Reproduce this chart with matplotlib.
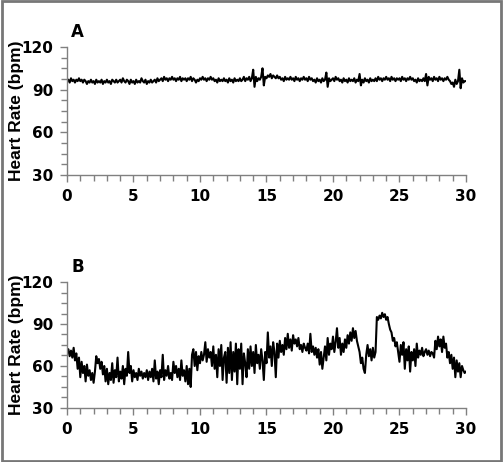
import numpy as np
import matplotlib
matplotlib.use("Agg")
import matplotlib.pyplot as plt
from matplotlib.ticker import MultipleLocator
from matplotlib.patches import Rectangle

# heart rate, one value every 0.1 min
minutes = np.arange(301) / 10.0

hr_a = [
    96, 97, 95, 98, 96, 97, 95, 97, 96, 98,
    96, 97, 95, 97, 96, 94, 96, 95, 97, 95,
    96, 94, 97, 95, 96, 95, 97, 94, 96, 95,
    97, 95, 96, 94, 97, 96, 95, 97, 95, 96,
    97, 95, 98, 96, 95, 97, 96, 94, 97, 95,
    96, 94, 97, 95, 96, 95, 98, 96, 95, 97,
    94, 96, 95, 97, 95, 96, 97, 95, 98, 96,
    97, 98, 96, 99, 97, 98, 96, 98, 97, 99,
    97, 98, 96, 98, 97, 99, 96, 98, 97, 98,
    96, 98, 97, 99, 96, 98, 97, 95, 97, 96,
    98, 97, 99, 97, 98, 96, 98, 97, 99, 97,
    98, 96, 97, 95, 98, 96, 97, 96, 98, 96,
    97, 95, 98, 96, 97, 95, 98, 96, 97, 96,
    98, 96, 97, 99, 96, 98, 97, 99, 96, 98,
    104, 92, 99, 96, 98, 97, 99, 105, 93, 99,
    98, 100, 99, 101, 98, 100, 99, 98, 100, 98,
    99, 97, 98, 96, 99, 97, 98, 97, 99, 97,
    98, 96, 99, 97, 98, 96, 98, 97, 99, 97,
    98, 96, 99, 97, 98, 96, 97, 95, 98, 96,
    97, 95, 98, 96, 97, 102, 92, 98, 96, 97,
    98, 96, 99, 97, 98, 96, 97, 95, 98, 96,
    97, 95, 98, 96, 97, 96, 98, 95, 97, 96,
    101, 93, 97, 95, 98, 96, 97, 95, 98, 96,
    97, 96, 98, 96, 99, 97, 98, 96, 98, 97,
    99, 97, 98, 96, 99, 97, 98, 96, 98, 97,
    98, 96, 99, 97, 98, 96, 98, 97, 99, 97,
    98, 96, 97, 95, 98, 96, 97, 96, 98, 96,
    101, 93, 99, 97, 98, 96, 99, 97, 98, 96,
    99, 97, 98, 96, 98, 97, 99, 97, 96, 94,
    95, 92, 97, 94, 96, 104, 91, 98, 95, 96,
    96,
]

hr_b = [
    70, 72, 67, 71, 66, 73, 64, 69, 58, 66,
    52, 63, 55, 60, 49, 61, 53, 57, 50, 55,
    48, 56, 67, 62, 65, 58, 63, 54, 60, 49,
    58, 47, 55, 50, 62, 48, 57, 52, 66, 49,
    56, 51, 60, 47, 58, 53, 70, 55, 60, 49,
    57, 52, 55, 50, 58, 53, 56, 51, 55, 52,
    57, 50, 56, 52, 58, 49, 64, 51, 56, 47,
    57, 52, 68, 50, 57, 53, 60, 51, 55, 50,
    63, 55, 60, 52, 58, 50, 64, 53, 57, 49,
    60, 47, 58, 45, 68, 72, 60, 70, 57, 67,
    62, 70, 64, 68, 77, 63, 72, 66, 70, 60,
    74, 58, 68, 52, 72, 60, 75, 50, 66, 70,
    48, 73, 55, 77, 50, 70, 56, 76, 47, 72,
    58, 76, 47, 69, 62, 52, 72, 58, 74, 60,
    70, 55, 75, 62, 68, 58, 72, 64, 50, 70,
    62, 84, 66, 74, 60, 77, 70, 52, 76, 66,
    78, 70, 75, 68, 80, 72, 83, 73, 79, 71,
    82, 76, 79, 74, 80, 72, 75, 70, 76, 73,
    71, 76, 69, 83, 70, 74, 68, 73, 66, 72,
    61, 70, 58, 66, 74, 64, 80, 68, 76, 72,
    81, 70, 77, 87, 73, 80, 68, 76, 70, 79,
    73, 82, 76, 84, 78, 87, 80, 85, 78, 74,
    70, 62, 66, 58, 55, 68, 75, 67, 72, 64,
    73, 66, 70, 95, 93, 96, 94, 98, 95, 97,
    93, 95, 90, 86, 84, 78, 80, 74, 77, 70,
    63, 75, 68, 77, 58, 72, 64, 74, 56, 70,
    64, 72, 60, 76, 66, 71, 68, 73, 67, 70,
    72, 68, 71, 67, 70, 69, 66, 78, 72, 81,
    74, 79, 70, 81, 73, 76, 66, 70, 62, 68,
    58, 66, 52, 64, 56, 62, 52, 60, 57, 55,
    56,
]

panels = ["A", "B"]
yticks = [30, 60, 90, 120]
xticks = [0, 5, 10, 15, 20, 25, 30]

# narrow bold for numbers, like the condensed face in the original
plt.rcParams["font.weight"] = "bold"
tick_family = ["Liberation Sans Narrow", "DejaVu Sans"]

fig = plt.figure(figsize=(5.03, 4.62), dpi=100)
fig.patches.append(Rectangle((0.004, 0.003), 0.992, 0.994, transform=fig.transFigure,
                             fill=False, edgecolor="#777777", linewidth=2))

boxes = [[0.1332, 0.6212, 0.7932, 0.2771], [0.1332, 0.1169, 0.7932, 0.2727]]
series = [hr_a, hr_b]

for box, hr, name in zip(boxes, series, panels):
    ax = fig.add_axes(box)
    ax.plot(minutes, hr, color="black", linewidth=1.5)
    ax.set_xlim(0, 30)
    ax.set_ylim(30, 120)
    ax.set_xticks(xticks)
    ax.set_yticks(yticks)
    ax.xaxis.set_minor_locator(MultipleLocator(1))
    ax.yaxis.set_minor_locator(MultipleLocator(7.5))
    for s in ["top", "right"]:
        ax.spines[s].set_visible(False)
    for s in ["left", "bottom"]:
        ax.spines[s].set_color("#808080")
        ax.spines[s].set_linewidth(1.0)
    ax.tick_params(which="both", direction="out", color="#808080", width=1.0)
    ax.tick_params(which="major", length=5, pad=5, labelsize=11,
                   labelfontfamily="Liberation Sans Narrow")
    ax.tick_params(which="minor", length=4)
    ax.set_ylabel("Heart Rate (bpm)", fontfamily=["Liberation Sans", "DejaVu Sans"],
                  fontweight="bold", fontsize=12.5)
    ax.yaxis.set_label_coords(-0.108, 0.5)
    ax.text(0.027, 1.12, name, transform=ax.transAxes, ha="center", va="center",
            fontfamily=tick_family, fontweight="bold", fontsize=12)

fig.savefig("out.png", dpi=100)
